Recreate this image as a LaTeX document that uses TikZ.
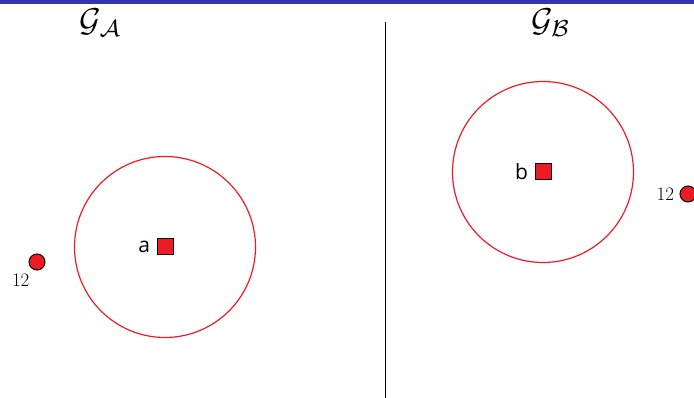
\documentclass[tikz,border=0pt]{standalone}
\usepackage{fontspec}
\setsansfont{Open Sans}
\usetikzlibrary{positioning}
\definecolor{barblue}{RGB}{51,51,178}
\definecolor{dotred}{RGB}{237,28,36}
\tikzset{
    region/.style={
        draw=dotred,
        circle,
        line width=1.2pt,
        minimum size=181pt,
        inner sep=0pt
    },
    target/.style={
        draw,
        fill=dotred,
        line width=1pt,
        minimum size=16pt,
        inner sep=0pt
    },
    agent/.style={
        draw,
        circle,
        fill=dotred,
        line width=1pt,
        minimum size=16pt,
        inner sep=0pt
    },
    tlabel/.style={font=\sffamily\fontsize{21}{25}\selectfont},
    nlabel/.style={font=\fontsize{19}{22}\selectfont},
    glabel/.style={scale=3.3, transform shape, inner sep=0pt},
    divider/.style={line width=1pt}
}

\begin{document}
\begin{tikzpicture}[x=1pt, y=-1pt]
\useasboundingbox (0,0) rectangle (694,398);
\fill[barblue] (0,0) rectangle (694,4);

% left graph
\node[glabel] (ga) at (101,23) {$\mathcal{G}_{\mathcal{A}}$};
\node[region] (ra) at (165,247) {};
\node[target] (ta) at (165,247) {};
\node[tlabel, left=3pt of ta] (la) {a};
\node[agent] (da) at (37,262) {};
\node[nlabel, below left=2pt and -2pt of da] (na) {12};

% right graph
\node[glabel] (gb) at (551,23) {$\mathcal{G}_{\mathcal{B}}$};
\node[region] (rb) at (543,172) {};
\node[target] (tb) at (543,172) {};
\node[tlabel, left=3pt of tb] (lb) {b};
\node[agent] (db) at (688,194) {};
\node[nlabel, left=2pt of db] (nb) {12};

\coordinate (top) at (385,22);
\coordinate (bottom) at (385,398);
\draw[divider] (top) -- (bottom);
\end{tikzpicture}
\end{document}
